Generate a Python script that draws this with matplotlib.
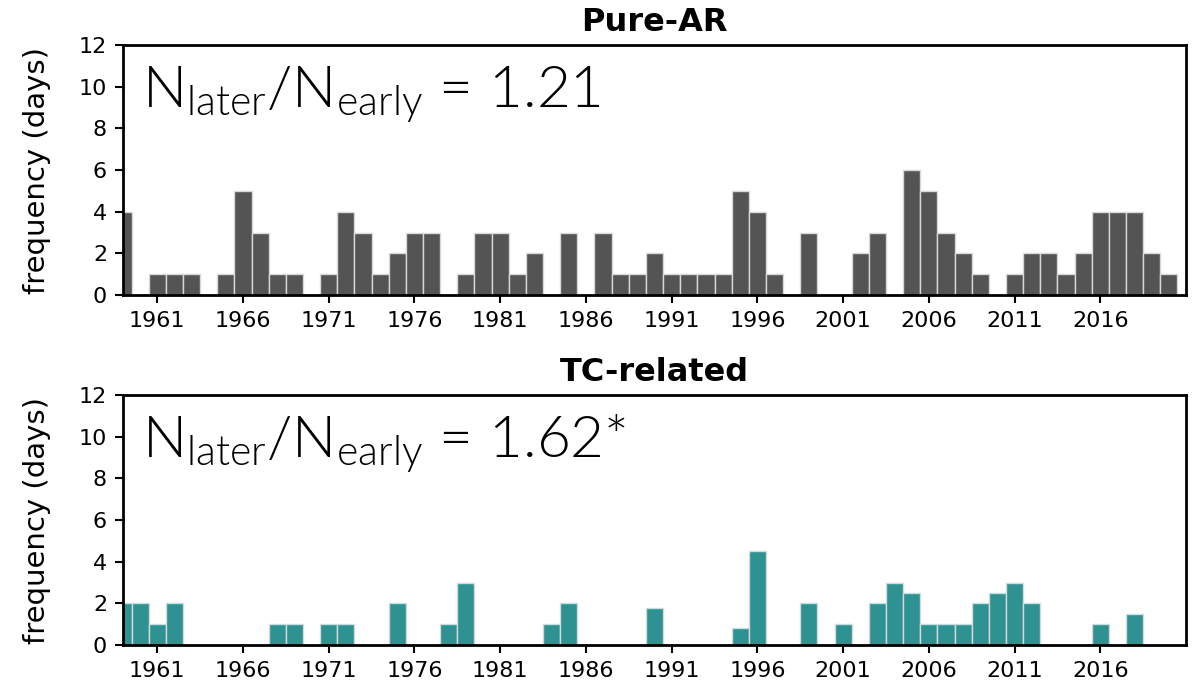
import matplotlib
matplotlib.use("Agg")
import matplotlib.pyplot as plt
import numpy as np

years = list(range(1959, 2021))
pure_ar = [4, 0, 1, 1, 1, 0, 1, 5, 3, 1, 1, 0, 1, 4, 3, 1, 2, 3, 3, 0,
           1, 3, 3, 1, 2, 0, 3, 0, 3, 1, 1, 2, 1, 1, 1, 1, 5, 4, 1, 0,
           3, 0, 0, 2, 3, 0, 6, 5, 3, 2, 1, 0, 1, 2, 2, 1, 2, 4, 4, 4,
           2, 1]
tc_related = [2, 2, 1, 2, 0, 0, 0, 0, 0, 1, 1, 0, 1, 1, 0, 0, 2, 0, 0, 1,
              3, 0, 0, 0, 0, 1, 2, 0, 0, 0, 0, 1.8, 0, 0, 0, 0, 0.8, 4.5, 0, 0,
              2, 0, 1, 0, 2, 3, 2.5, 1, 1, 1, 2, 2.5, 3, 2, 0, 0, 0, 1, 0, 1.5,
              0, 0]
titles = ["Pure-AR", "TC-related"]
ratios = ["1.21", "1.62*"]
colors = ["#545454", "#2f9292"]
xtick_years = list(range(1961, 2017, 5))
yticks = list(range(0, 13, 2))

plt.rcParams['mathtext.default'] = 'regular'
fig = plt.figure(figsize=(11.99, 6.83), dpi=100)
W, H = 1199, 683
axes_px = [(123, 45, 1186, 295), (123, 395, 1186, 645)]

for i, (vals, title, ratio, col) in enumerate(zip([pure_ar, tc_related], titles, ratios, colors)):
    l, t, r, b = axes_px[i]
    ax = fig.add_axes([l / W, 1 - b / H, (r - l) / W, (b - t) / H])
    ax.bar(years, vals, width=1.0, color=col, edgecolor="#d8d8d8", linewidth=1.0)
    ax.set_xlim(1959, 2021)
    ax.set_ylim(0, 12)
    ax.set_xticks(xtick_years)
    ax.set_xticklabels([str(y) for y in xtick_years])
    ax.set_yticks(yticks)
    ax.tick_params(labelsize=16, width=1.5, length=6, pad=5.5)
    for s in ax.spines.values():
        s.set_linewidth(2)
    ax.set_ylabel("frequency (days)", fontsize=21, labelpad=20)
    ax.set_title(title, fontsize=23, fontweight="bold", pad=10)
    ax.text(0.018, 0.75, r"N$_{\mathregular{later}}$/N$_{\mathregular{early}}$ = " + ratio,
            transform=ax.transAxes, fontsize=42, family="Lato", fontweight=300,
            ha="left", va="baseline")

fig.savefig("out.png", dpi=100)
